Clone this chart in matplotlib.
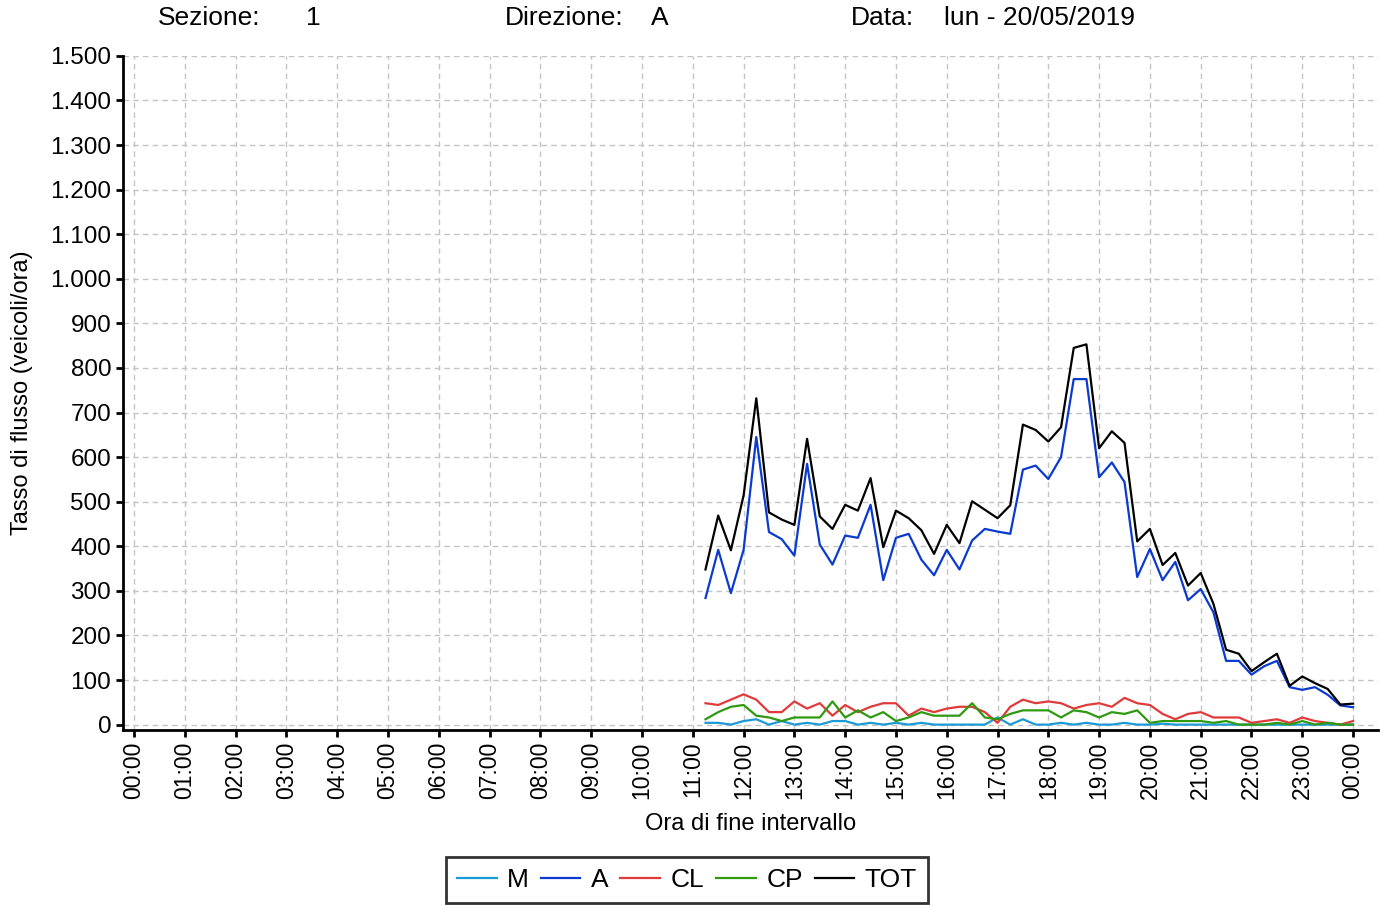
import numpy as np
import matplotlib.pyplot as plt

plt.rcParams['font.family'] = ['Liberation Sans', 'DejaVu Sans']

# ==========================================
# Dati (veicoli/ora, intervalli di 15 minuti)
# ==========================================
ore = [
    "11:15", "11:30", "11:45", "12:00", "12:15", "12:30", "12:45", "13:00",
    "13:15", "13:30", "13:45", "14:00", "14:15", "14:30", "14:45", "15:00",
    "15:15", "15:30", "15:45", "16:00", "16:15", "16:30", "16:45", "17:00",
    "17:15", "17:30", "17:45", "18:00", "18:15", "18:30", "18:45", "19:00",
    "19:15", "19:30", "19:45", "20:00", "20:15", "20:30", "20:45", "21:00",
    "21:15", "21:30", "21:45", "22:00", "22:15", "22:30", "22:45", "23:00",
    "23:15", "23:30", "23:45", "24:00",
]

M = [4, 4, 0, 8, 12, 0, 8, 0, 4, 0, 8, 8, 0, 4, 0, 4,
     0, 4, 0, 0, 0, 0, 0, 16, 0, 12, 0, 0, 4, 0, 4, 0,
     0, 4, 0, 0, 2, 0, 0, 0, 0, 0, 0, 0, 0, 0, 0, 0,
     0, 0, 0, 0]

A = [284, 392, 295, 392, 645, 432, 416, 379, 585, 404, 359, 424, 419, 493, 324, 419,
     428, 370, 335, 392, 348, 413, 439, 433, 428, 572, 581, 551, 600, 775, 775, 555,
     588, 544, 331, 394, 324, 365, 279, 304, 252, 143, 143, 112, 131, 143, 84, 78,
     84, 67, 43, 39]

CL = [48, 44, 56, 68, 56, 28, 28, 52, 36, 48, 20, 44, 28, 40, 48, 48,
      20, 36, 28, 36, 40, 40, 28, 4, 40, 56, 48, 52, 48, 36, 44, 48,
      40, 60, 48, 44, 24, 12, 24, 28, 16, 16, 16, 4, 8, 12, 4, 16,
      8, 4, 0, 8]

CP = [12, 28, 40, 44, 20, 16, 8, 16, 16, 16, 52, 16, 32, 16, 28, 8,
      16, 28, 20, 20, 20, 48, 16, 12, 24, 32, 32, 32, 16, 32, 28, 16,
      28, 24, 32, 4, 8, 8, 8, 8, 4, 8, 0, 0, 0, 4, 0, 8,
      0, 4, 0, 0]

TOT = [348, 469, 391, 514, 732, 476, 460, 448, 641, 467, 439, 493, 480, 553, 398, 480,
       463, 436, 383, 448, 407, 501, 482, 463, 492, 673, 661, 635, 667, 845, 853, 620,
       658, 632, 411, 439, 358, 385, 312, 340, 271, 168, 159, 120, 140, 159, 87, 108,
       93, 80, 45, 47]

serie = [("M", M, "#1a9ad6"), ("A", A, "#0a3ad0"), ("CL", CL, "#e03a3a"),
         ("CP", CP, "#2e9a10"), ("TOT", TOT, "#000000")]

etichette_ore = [f"{h % 24:02d}:00" for h in range(25)]
y_ticks = list(range(0, 1501, 100))

# ore -> valore numerico
x = [int(s[:2]) + int(s[3:]) / 60 for s in ore]

# ==========================================
# Grafico
# ==========================================
fig = plt.figure(figsize=(13.86, 9.06), dpi=100)
ax = fig.add_axes([0.0887, 0.1943, 0.9055, 0.7440])

for nome, valori, colore in serie:
    ax.plot(x, valori, color=colore, linewidth=1.6, label=nome)

ax.set_xlim(-0.22, 24.49)
ax.set_ylim(-12, 1500)
ax.set_xticks(range(25))
ax.set_xticklabels(etichette_ore, rotation=90, fontsize=16.5)
ax.set_yticks(y_ticks)
ax.set_yticklabels([f"{v:,}".replace(",", ".") for v in y_ticks], fontsize=17.5)

ax.grid(True, linestyle=(0, (4, 3)), color="#c4c4c4", linewidth=1)
ax.set_axisbelow(True)
for s in ["top", "right"]:
    ax.spines[s].set_visible(False)
for s in ["left", "bottom"]:
    ax.spines[s].set_linewidth(2)
ax.tick_params(axis="both", direction="out", length=5, width=2, color="black")

ax.set_xlabel("Ora di fine intervallo", fontsize=17, labelpad=10)
ax.set_ylabel("Tasso di flusso (veicoli/ora)", fontsize=17, labelpad=12)

# intestazione
yh = 1 - 18 / 906
fig.text(158 / 1386, yh, "Sezione:", fontsize=19, va="center")
fig.text(306 / 1386, yh, "1", fontsize=19, va="center")
fig.text(505 / 1386, yh, "Direzione:", fontsize=19, va="center")
fig.text(651 / 1386, yh, "A", fontsize=19, va="center")
fig.text(851 / 1386, yh, "Data:", fontsize=19, va="center")
fig.text(944 / 1386, yh, "lun - 20/05/2019", fontsize=19, va="center")

leg = fig.legend(loc="center", bbox_to_anchor=(687 / 1386, 1 - 880 / 906), ncol=5,
                 fontsize=19, frameon=True, fancybox=False, handlelength=1.5,
                 columnspacing=0.45, handletextpad=0.4, borderpad=0.4,
                 borderaxespad=0)
leg.get_frame().set_edgecolor("black")
leg.get_frame().set_linewidth(2)

plt.savefig("out.png", dpi=100)
